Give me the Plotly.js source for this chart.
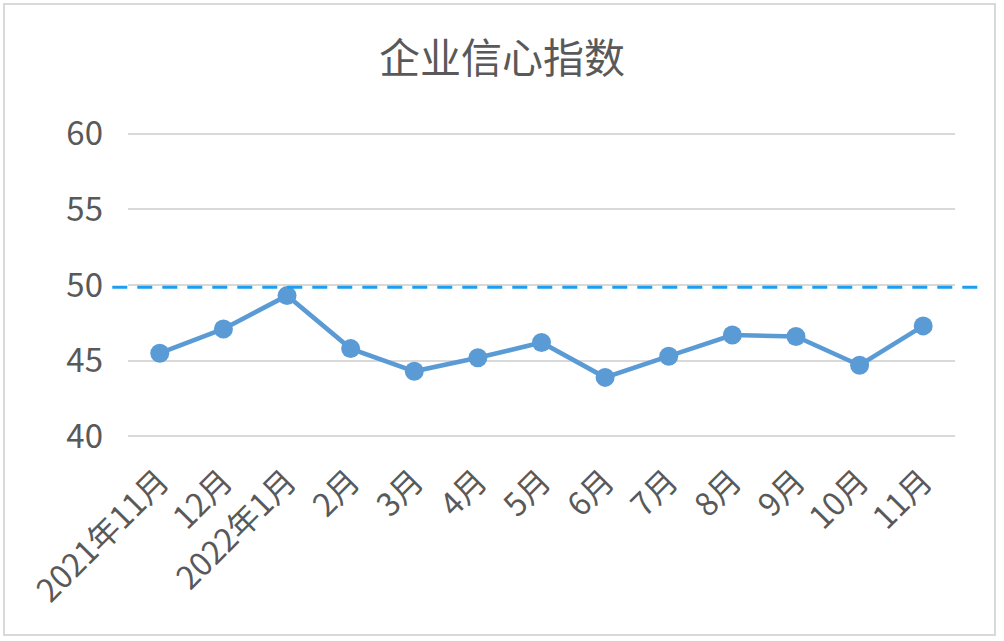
<!DOCTYPE html>
<html>
<head>
<meta charset="utf-8">
<script src="https://cdn.plot.ly/plotly-3.0.1.min.js"></script>
<style>
  html, body { margin: 0; padding: 0; background: #fff; }
  #chart { width: 1004px; height: 641px; }
  #frame { position: absolute; left: 3px; top: 3px; width: 989px; height: 629px; border: 2px solid #d9d9d9; pointer-events: none; }
</style>
</head>
<body>
<div id="chart"></div>
<div id="frame"></div>
<script>
const categories = ['2021年11月', '12月', '2022年1月', '2月', '3月', '4月', '5月', '6月', '7月', '8月', '9月', '10月', '11月'];
const indexValues = [45.5, 47.1, 49.3, 45.8, 44.3, 45.2, 46.2, 43.9, 45.3, 46.7, 46.6, 44.7, 47.3];
const threshold = 50;
const yMin = 40, yMax = 60;
const yTicks = [40, 45, 50, 55, 60];

const font = '"Noto Sans CJK SC", "Noto Sans", sans-serif';
const pad = 0.3;

const trace = {
  type: 'scatter',
  mode: 'lines+markers',
  x: categories,
  y: indexValues,
  line: { color: '#5b9bd5', width: 4.6 },
  marker: { color: '#5b9bd5', size: 19 },
  hoverinfo: 'x+y'
};

const rLo = yMin - pad, rHi = yMax + pad;
const thrPaper = (threshold - 0.15 - rLo) / (rHi - rLo);

const layout = {
  width: 1004,
  height: 641,
  margin: { l: 128, r: 49, t: 129, b: 200 },
  paper_bgcolor: '#ffffff',
  plot_bgcolor: '#ffffff',
  showlegend: false,
  title: {
    text: '企业信心指数',
    font: { family: font, size: 41, color: '#595959' },
    x: 0.5, xanchor: 'center',
    y: 0.908, yanchor: 'middle', yref: 'container'
  },
  xaxis: {
    type: 'category',
    range: [-0.5, categories.length - 0.5],
    tickangle: -45,
    tickfont: { family: font, size: 32, color: '#595959' },
    ticklabelstandoff: 14,
    showgrid: false,
    zeroline: false,
    showline: false,
    ticks: '',
    fixedrange: true
  },
  yaxis: {
    range: [rLo, rHi],
    tickvals: yTicks,
    ticktext: yTicks.map(String),
    tickfont: { family: font, size: 33, color: '#595959' },
    ticklabelstandoff: 24,
    showgrid: true,
    gridcolor: '#d9d9d9',
    gridwidth: 2,
    zeroline: false,
    showline: false,
    ticks: '',
    fixedrange: true
  },
  shapes: [{
    type: 'line',
    xref: 'paper', yref: 'paper',
    x0: -0.019, x1: 1.03,
    y0: thrPaper, y1: thrPaper,
    line: { color: '#1c9ff0', width: 3, dash: '15px,10px' },
    layer: 'above'
  }]
};

Plotly.newPlot('chart', [trace], layout, { displayModeBar: false, staticPlot: true });
</script>
</body>
</html>
